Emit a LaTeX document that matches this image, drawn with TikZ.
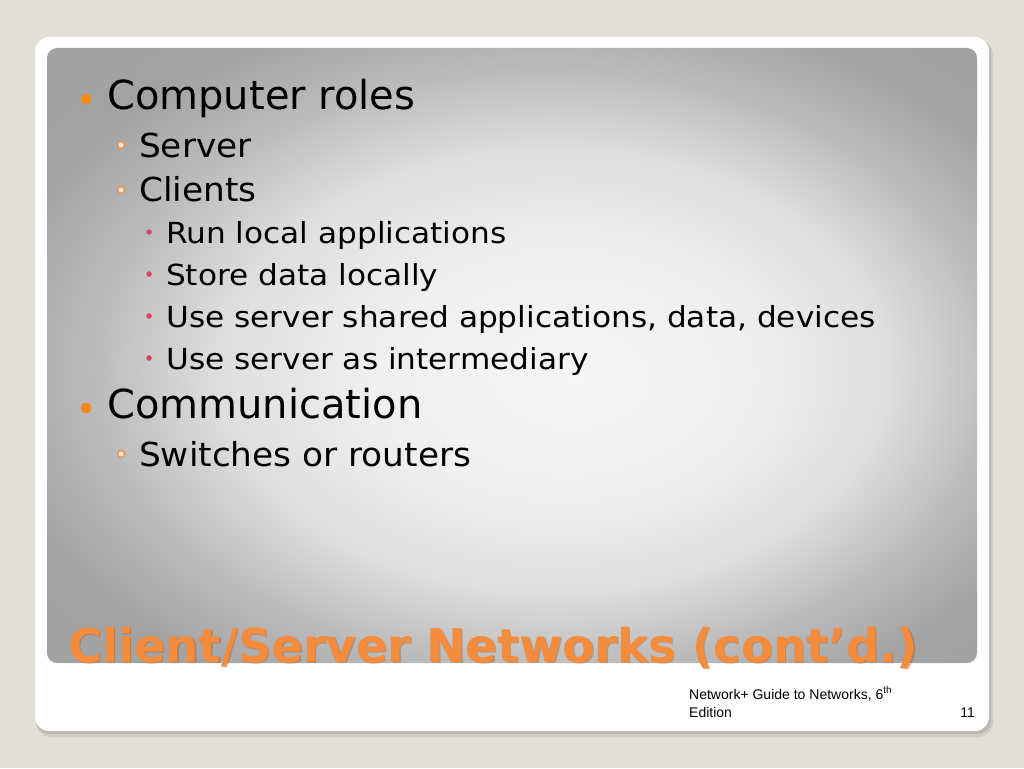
\documentclass[tikz,border=0pt]{standalone}
\usepackage{fontspec}
\setmainfont{DejaVu Sans}
\newfontfamily\footfont{Liberation Sans}
\newfontfamily\midfont[FakeStretch=1.04]{DejaVu Sans}
\newfontfamily\lowfont[FakeStretch=1.075]{DejaVu Sans}
\usepackage{xcolor}
\usetikzlibrary{positioning}
\definecolor{slidebg}{HTML}{E1DED5}
\definecolor{titleorange}{HTML}{F58C3C}
\definecolor{titleshade}{HTML}{A85A20}
\definecolor{dotorange}{HTML}{F08A1C}
\definecolor{ringorange}{HTML}{E39A5A}
\definecolor{dotred}{HTML}{E0405A}
\pgfdeclareradialshading{panelglow}{\pgfpoint{3.5bp}{-2bp}}{%
  color(0bp)=(black!4); color(10bp)=(black!6); color(18bp)=(black!13);
  color(24bp)=(black!26); color(30bp)=(black!36); color(50bp)=(black!38)}
\tikzset{
  lvl-one/.style={anchor=base west, inner sep=0pt, font=\fontsize{40}{40}\selectfont},
  lvl-two/.style={anchor=base west, inner sep=0pt, font=\midfont\fontsize{33}{33}\selectfont},
  lvl-three/.style={anchor=base west, inner sep=0pt, font=\lowfont\fontsize{29}{29}\selectfont},
  bullet-one/.style={circle, fill=dotorange, inner sep=0pt, minimum size=11pt},
  bullet-two/.style={circle, draw=ringorange, fill=ringorange!25, line width=1.6pt, inner sep=0pt, minimum size=7pt},
  bullet-three/.style={circle, fill=dotred, inner sep=0pt, minimum size=5.5pt},
  foot/.style={inner sep=0pt, font=\footfont\fontsize{14}{14}\selectfont}
}
\begin{document}
\begin{tikzpicture}[x=1pt, y=-1pt]
    \useasboundingbox (0,0) rectangle (1024,768);
    \fill[slidebg] (0,0) rectangle (1024,768);
    % card with soft shadow
    \fill[black, opacity=0.08, rounded corners=15pt] (36,40) rectangle (993,737);
    \fill[black, opacity=0.10, rounded corners=14pt] (36,39) rectangle (991,734);
    \fill[white, rounded corners=14pt] (35,37) rectangle (989,731);
    % gray panel
    \shade[shading=panelglow, rounded corners=10pt] (47,48) rectangle (977,663);

    % --- Bullet list ---
    \node[bullet-one] (b1) at (86,99) {};
    \node[lvl-one] (roles) at (107,109) {Computer roles};
    \node[bullet-two] (b2) at (121,145) {};
    \node[lvl-two] (server) at (139,157) {Server};
    \node[bullet-two] (b3) at (121,190) {};
    \node[lvl-two] (clients) at (139,201) {Clients};
    \node[bullet-three] (b4) at (149,232) {};
    \node[lvl-three] (runlocal) at (166,243) {Run local applications};
    \node[bullet-three] (b5) at (149,274) {};
    \node[lvl-three] (store) at (166,285) {Store data locally};
    \node[bullet-three] (b6) at (149,316) {};
    \node[lvl-three] (shared) at (166,327) {Use server shared applications, data, devices};
    \node[bullet-three] (b7) at (149,358) {};
    \node[lvl-three] (intermed) at (166,369) {Use server as intermediary};
    \node[bullet-one] (b8) at (86,408) {};
    \node[lvl-one] (comm) at (107,418) {Communication};
    \node[bullet-two] (b9) at (121,454) {};
    \node[lvl-two] (switches) at (139,466) {Switches or routers};

    % --- Title with shadow ---
    \node[anchor=base west, inner sep=0pt, text=titleshade, opacity=0.4, font=\bfseries\fontsize{46.5}{46.5}\selectfont] (titleshadow) at (69.5,663.5) {Client/Server Networks (cont’d.)};
    \node[anchor=base west, inner sep=0pt, text=titleorange, font=\bfseries\fontsize{46.5}{46.5}\selectfont] (title) at (68,662) {Client/Server Networks (cont’d.)};

    % --- Footer ---
    \node[foot, anchor=base west] (book) at (689,699) {Network+ Guide to Networks, 6\textsuperscript{th}};
    \node[foot, anchor=base west] (edition) at (689,717) {Edition};
    \node[foot, anchor=base east] (page) at (975,717) {11};
\end{tikzpicture}
\end{document}
